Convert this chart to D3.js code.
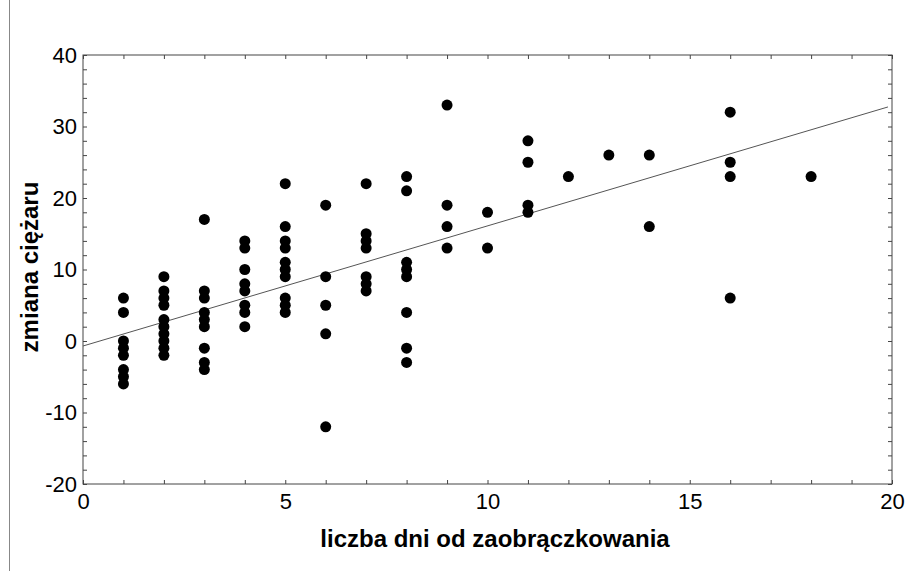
<html>
  <head>
    <meta charset="utf-8">
    <title>zmiana ciężaru</title>
    <script type="text/javascript" src="https://d3js.org/d3.v7.min.js"></script>
    <style type="text/css">
      body { margin: 0; background: #fff; }
      text { font-family: "Liberation Sans", Arial, sans-serif; }
    </style>
  </head>
  <body>
    <script type="text/javascript">

      // days since ringing (x) and weight change readings (y), one list per day
      var days = [1, 2, 3, 4, 5, 6, 7, 8, 9, 10, 11, 12, 13, 14, 16, 18];
      var changes = [
        [6, 4, 0, -1, -2, -4, -5, -6],
        [9, 7, 6, 5, 3, 2, 1, 0, -1, -2],
        [17, 7, 6, 4, 3, 2, -1, -3, -4],
        [14, 13, 10, 8, 7, 5, 4, 2],
        [22, 16, 14, 13, 11, 10, 9, 6, 5, 4],
        [19, 9, 5, 1, -12],
        [22, 15, 14, 13, 9, 8, 7],
        [23, 21, 11, 10, 9, 4, -1, -3],
        [33, 19, 16, 13],
        [18, 13],
        [28, 25, 19, 18],
        [23],
        [26],
        [26, 16],
        [32, 25, 23, 6],
        [23]
      ];
      // fitted line
      var fitIntercept = -0.7;
      var fitSlope = 1.68;
      var fitRange = [0, 19.9];

      var xTicks = [0, 5, 10, 15, 20];
      var yTicks = [-20, -10, 0, 10, 20, 30, 40];

      //Width and height
      var w = 906;
      var h = 571;
      var pL = 83, pR = 892, pT = 55, pB = 484;

      var x = d3.scaleLinear().domain([0, 20]).range([pL, pR]);
      var y = d3.scaleLinear().domain([-20, 40]).range([pB, pT]);
      var plain = function(d) { return String(d); };

      var svg = d3.select("body")
            .append("svg")
            .attr("width", w)
            .attr("height", h);

      // frame line at the far left
      svg.append("line")
         .attr("x1", 9.5).attr("x2", 9.5)
         .attr("y1", 0).attr("y2", h)
         .attr("stroke", "#888").attr("stroke-width", 1);

      // plot box
      svg.append("rect")
         .attr("x", pL).attr("y", pT)
         .attr("width", pR - pL).attr("height", pB - pT)
         .attr("fill", "none").attr("stroke", "#444").attr("stroke-width", 1);

      // minor ticks (inward)
      function minor(g) {
        g.selectAll("text").remove();
        g.select(".domain").remove();
        g.selectAll("line").attr("stroke", "#444");
      }
      svg.append("g").attr("transform", "translate(" + pL + ",0)")
         .call(d3.axisLeft(y).tickValues(d3.range(-20, 41, 2)).tickSize(-4)).call(minor);
      svg.append("g").attr("transform", "translate(" + pR + ",0)")
         .call(d3.axisRight(y).tickValues(d3.range(-20, 41, 2)).tickSize(-4)).call(minor);
      svg.append("g").attr("transform", "translate(0," + pB + ")")
         .call(d3.axisBottom(x).tickValues(d3.range(0, 21, 1)).tickSize(-4)).call(minor);
      svg.append("g").attr("transform", "translate(0," + pT + ")")
         .call(d3.axisTop(x).tickValues(d3.range(0, 21, 1)).tickSize(-4)).call(minor);

      // tick labels
      var yAxis = svg.append("g").attr("transform", "translate(" + pL + ",0)")
         .call(d3.axisLeft(y).tickValues(yTicks).tickFormat(plain).tickSize(0).tickPadding(6));
      yAxis.select(".domain").remove();
      yAxis.selectAll("text").attr("font-size", 22).attr("fill", "#000")
           .style("font-family", "Liberation Sans, Arial, sans-serif");

      var xAxis = svg.append("g").attr("transform", "translate(0," + pB + ")")
         .call(d3.axisBottom(x).tickValues(xTicks).tickFormat(plain).tickSize(0).tickPadding(9));
      xAxis.select(".domain").remove();
      xAxis.selectAll("text").attr("font-size", 22).attr("fill", "#000")
           .style("font-family", "Liberation Sans, Arial, sans-serif");

      // fitted line
      svg.append("line")
         .attr("x1", x(fitRange[0])).attr("y1", y(fitIntercept + fitSlope * fitRange[0]))
         .attr("x2", x(fitRange[1])).attr("y2", y(fitIntercept + fitSlope * fitRange[1]))
         .attr("stroke", "#555").attr("stroke-width", 1);

      // points
      var pts = [];
      days.forEach(function(d, i) {
        changes[i].forEach(function(v) { pts.push({x: d, y: v}); });
      });
      svg.selectAll("circle.pt")
         .data(pts)
         .enter()
         .append("circle")
         .attr("class", "pt")
         .attr("cx", function(d) { return x(d.x); })
         .attr("cy", function(d) { return y(d.y); })
         .attr("r", 5.5)
         .attr("fill", "#000");

      // axis titles
      svg.append("text")
         .attr("x", 495).attr("y", 547)
         .attr("text-anchor", "middle")
         .attr("font-size", 24).attr("font-weight", "bold")
         .text("liczba dni od zaobrączkowania");

      svg.append("text")
         .attr("transform", "translate(38,267) rotate(-90)")
         .attr("text-anchor", "middle")
         .attr("font-size", 24).attr("font-weight", "bold")
         .text("zmiana ciężaru");
    </script>
  </body>
</html>
